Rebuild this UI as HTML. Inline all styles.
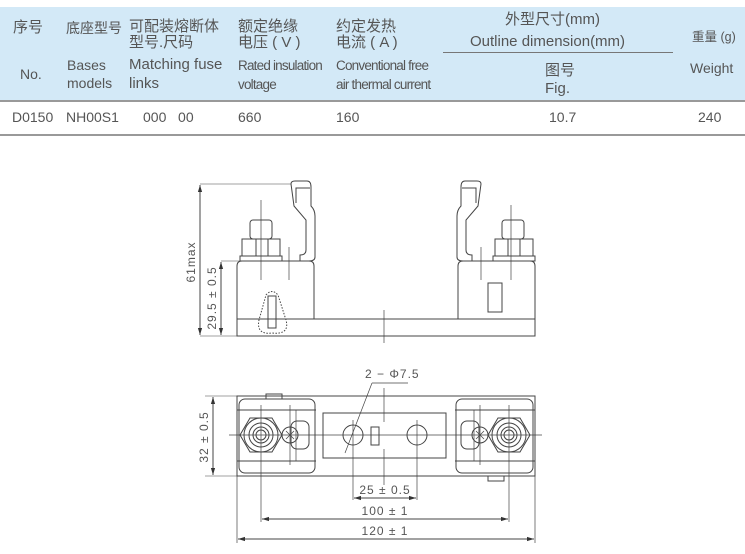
<!DOCTYPE html>
<html><head><meta charset="utf-8">
<style>
body{margin:0;width:745px;height:554px;background:#fff;position:relative;overflow:hidden;font-family:"Liberation Sans","Noto Sans CJK SC",sans-serif;color:#555;}
.t{position:absolute;white-space:nowrap;font-size:14px;line-height:17px;}
.c{font-size:15px;}
.s{font-size:13.5px;letter-spacing:-0.8px;}
</style></head><body>
<div style="position:absolute;left:0;top:7px;width:745px;height:93px;background:#d3e9f7;"></div>
<div style="position:absolute;left:0;top:100px;width:745px;height:2px;background:#999;"></div>
<div style="position:absolute;left:0;top:134px;width:745px;height:2px;background:#999;"></div>
<div style="position:absolute;left:443px;top:52px;width:230px;height:1px;background:#777;"></div>

<div class="t c" style="left:13px;top:19px">序号</div>
<div class="t" style="left:66px;top:20px">底座型号</div>
<div class="t c" style="left:129px;top:18px">可配装熔断体</div>
<div class="t c" style="left:129px;top:34px">型号.尺码</div>
<div class="t c" style="left:238px;top:18px">额定绝缘</div>
<div class="t c" style="left:238px;top:34px">电压 ( V )</div>
<div class="t c" style="left:336px;top:18px">约定发热</div>
<div class="t c" style="left:336px;top:34px">电流 ( A )</div>
<div class="t c" style="left:505px;top:11px">外型尺寸(mm)</div>
<div class="t c" style="left:470px;top:33px">Outline dimension(mm)</div>
<div class="t" style="left:692px;top:29px;font-size:12.5px">重量 (g)</div>

<div class="t" style="left:20px;top:66px">No.</div>
<div class="t" style="left:67px;top:57px">Bases</div>
<div class="t" style="left:67px;top:75px">models</div>
<div class="t c" style="left:129px;top:56px">Matching fuse</div>
<div class="t c" style="left:129px;top:75px">links</div>
<div class="t s" style="left:238px;top:57px">Rated insulation</div>
<div class="t s" style="left:238px;top:76px">voltage</div>
<div class="t s" style="left:336px;top:57px">Conventional free</div>
<div class="t s" style="left:336px;top:76px">air thermal current</div>
<div class="t c" style="left:545px;top:62px">图号</div>
<div class="t c" style="left:545px;top:80px">Fig.</div>
<div class="t" style="left:690px;top:60px">Weight</div>

<div class="t" style="left:12px;top:109px">D0150</div>
<div class="t" style="left:66px;top:109px">NH00S1</div>
<div class="t" style="left:143px;top:109px">000&nbsp;&nbsp;&nbsp;00</div>
<div class="t" style="left:238px;top:109px">660</div>
<div class="t" style="left:336px;top:109px">160</div>
<div class="t" style="left:549px;top:109px">10.7</div>
<div class="t" style="left:698px;top:109px">240</div>

<svg width="745" height="554" style="position:absolute;left:0;top:0" xmlns="http://www.w3.org/2000/svg">
<defs><marker id="a" viewBox="0 0 10 10" refX="10" refY="5" markerWidth="7" markerHeight="7" orient="auto-start-reverse"><path d="M0,2 L10,5 L0,8z" fill="#333"/></marker></defs>
<g fill="none" stroke="#444" stroke-width="1">
<rect x="237" y="319" width="298" height="17"/>
<path d="M237,319 V266 Q237,261 242,261 H309 Q314,261 314,266 V319"/>
<path d="M458,319 V266 Q458,261 463,261 H530 Q535,261 535,266 V319"/>
<rect x="240" y="256" width="42" height="5"/>
<rect x="242" y="239" width="38" height="17"/>
<rect x="250" y="220" width="22" height="19" rx="3"/>
<line x1="256" y1="239" x2="256" y2="256"/><line x1="268" y1="239" x2="268" y2="256"/>
<line x1="261" y1="200" x2="261" y2="280" stroke-width="0.7"/>
<line x1="289" y1="247" x2="289" y2="280" stroke-width="0.7"/>
<path d="M291,184 Q291,181 295,181 H307 Q311,181 311,187 V206 Q315,210 315,216 V257 Q315,261 309,261 H300 V255 Q306,255 306,250 V220 L294,206 Z"/>
<path d="M296,203 V188 H310"/>
<rect x="493" y="256" width="42" height="5"/>
<rect x="495" y="239" width="38" height="17"/>
<rect x="502" y="220" width="22" height="19" rx="3"/>
<line x1="508" y1="239" x2="508" y2="256"/><line x1="520" y1="239" x2="520" y2="256"/>
<line x1="511" y1="205" x2="511" y2="280" stroke-width="0.7"/>
<line x1="481" y1="247" x2="481" y2="280" stroke-width="0.7"/>
<path d="M481,184 Q481,181 477,181 H465 Q461,181 461,187 V206 Q457,210 457,216 V257 Q457,261 463,261 H472 V255 Q466,255 466,250 V220 L478,206 Z"/>
<path d="M476,203 V188 H462"/>
<rect x="488" y="283" width="14" height="29"/>
<path d="M266,295 Q272,288 278,295 L286,320 Q290,335 272,333 Q256,335 259,320 Z" stroke-dasharray="1.5,1.5"/>
<rect x="268" y="296" width="8" height="32"/>
<line x1="384" y1="310" x2="384" y2="343" stroke-width="0.7"/>
<line x1="200" y1="184" x2="291" y2="184" stroke-width="0.6"/>
<line x1="200" y1="336" x2="237" y2="336" stroke-width="0.6"/>
<line x1="221" y1="261" x2="240" y2="261" stroke-width="0.6"/>
<line x1="200" y1="185" x2="200" y2="335" marker-start="url(#a)" marker-end="url(#a)"/>
<line x1="221" y1="262" x2="221" y2="335" marker-start="url(#a)" marker-end="url(#a)"/>
<rect x="237" y="396" width="298" height="80"/>
<rect x="239" y="399" width="76" height="74" rx="6"/>
<rect x="456" y="399" width="77" height="74" rx="6"/>
<line x1="237" y1="410" x2="316" y2="410"/><line x1="237" y1="461" x2="316" y2="461"/>
<line x1="455" y1="410" x2="535" y2="410"/><line x1="455" y1="461" x2="535" y2="461"/>
<rect x="266" y="394" width="16" height="5"/>
<rect x="488" y="476" width="16" height="5"/>
<rect x="323" y="413" width="123" height="45"/>
<circle cx="353" cy="435" r="10"/><circle cx="417" cy="435" r="10"/>
<rect x="371" y="427" width="8" height="18"/>
<polygon points="240,435 250,418 272,418 282,435 272,452 250,452"/>
<circle cx="261" cy="435" r="17"/><circle cx="261" cy="435" r="12"/><circle cx="261" cy="435" r="8"/><circle cx="261" cy="435" r="5"/>
<polygon points="530,435 520,418 498,418 488,435 498,452 520,452"/>
<circle cx="509" cy="435" r="17"/><circle cx="509" cy="435" r="12"/><circle cx="509" cy="435" r="8"/><circle cx="509" cy="435" r="5"/>
<circle cx="290" cy="435" r="8"/><rect x="291" y="421" width="18" height="28" rx="6"/>
<circle cx="480" cy="435" r="8"/><rect x="461" y="421" width="18" height="28" rx="6"/>
<line x1="286" y1="431" x2="294" y2="439" stroke-width="0.7"/><line x1="294" y1="431" x2="286" y2="439" stroke-width="0.7"/>
<line x1="476" y1="431" x2="484" y2="439" stroke-width="0.7"/><line x1="484" y1="431" x2="476" y2="439" stroke-width="0.7"/>
<line x1="296" y1="410" x2="296" y2="461" stroke-width="0.7"/><line x1="474" y1="410" x2="474" y2="461" stroke-width="0.7"/>
<line x1="229" y1="435" x2="542" y2="435" stroke-width="0.7"/>
<line x1="261" y1="405" x2="261" y2="522" stroke-width="0.7"/>
<line x1="509" y1="405" x2="509" y2="522" stroke-width="0.7"/>
<line x1="290" y1="405" x2="290" y2="465" stroke-width="0.7"/>
<line x1="480" y1="405" x2="480" y2="465" stroke-width="0.7"/>
<line x1="353" y1="420" x2="353" y2="500" stroke-width="0.7"/>
<line x1="417" y1="420" x2="417" y2="500" stroke-width="0.7"/>
<line x1="384" y1="388" x2="384" y2="422" stroke-width="0.7"/>
<line x1="384" y1="449" x2="384" y2="485" stroke-width="0.7"/>
<line x1="237" y1="476" x2="237" y2="543" stroke-width="0.7"/>
<line x1="535" y1="476" x2="535" y2="543" stroke-width="0.7"/>
<line x1="345" y1="453" x2="372" y2="383" stroke-width="0.7"/>
<line x1="372" y1="383" x2="408" y2="383" stroke-width="0.7"/>
<line x1="205" y1="396" x2="237" y2="396" stroke-width="0.6"/>
<line x1="205" y1="476" x2="237" y2="476" stroke-width="0.6"/>
<line x1="213" y1="397" x2="213" y2="475" marker-start="url(#a)" marker-end="url(#a)"/>
<line x1="354" y1="498" x2="416" y2="498" marker-start="url(#a)" marker-end="url(#a)"/>
<line x1="262" y1="519" x2="508" y2="519" marker-start="url(#a)" marker-end="url(#a)"/>
<line x1="238" y1="539" x2="534" y2="539" marker-start="url(#a)" marker-end="url(#a)"/>
</g>
<g fill="#555" font-family="Liberation Sans, sans-serif" font-size="12" letter-spacing="1">
<text transform="translate(195,262) rotate(-90)" text-anchor="middle">61max</text>
<text transform="translate(216,298) rotate(-90)" text-anchor="middle">29.5 ± 0.5</text>
<text transform="translate(208,437) rotate(-90)" text-anchor="middle">32 ± 0.5</text>
<text x="365" y="378">2 − Φ7.5</text>
<text x="385" y="494" text-anchor="middle">25 ± 0.5</text>
<text x="385" y="515" text-anchor="middle">100 ± 1</text>
<text x="385" y="535" text-anchor="middle">120 ± 1</text>
</g>
</svg>
</body></html>
